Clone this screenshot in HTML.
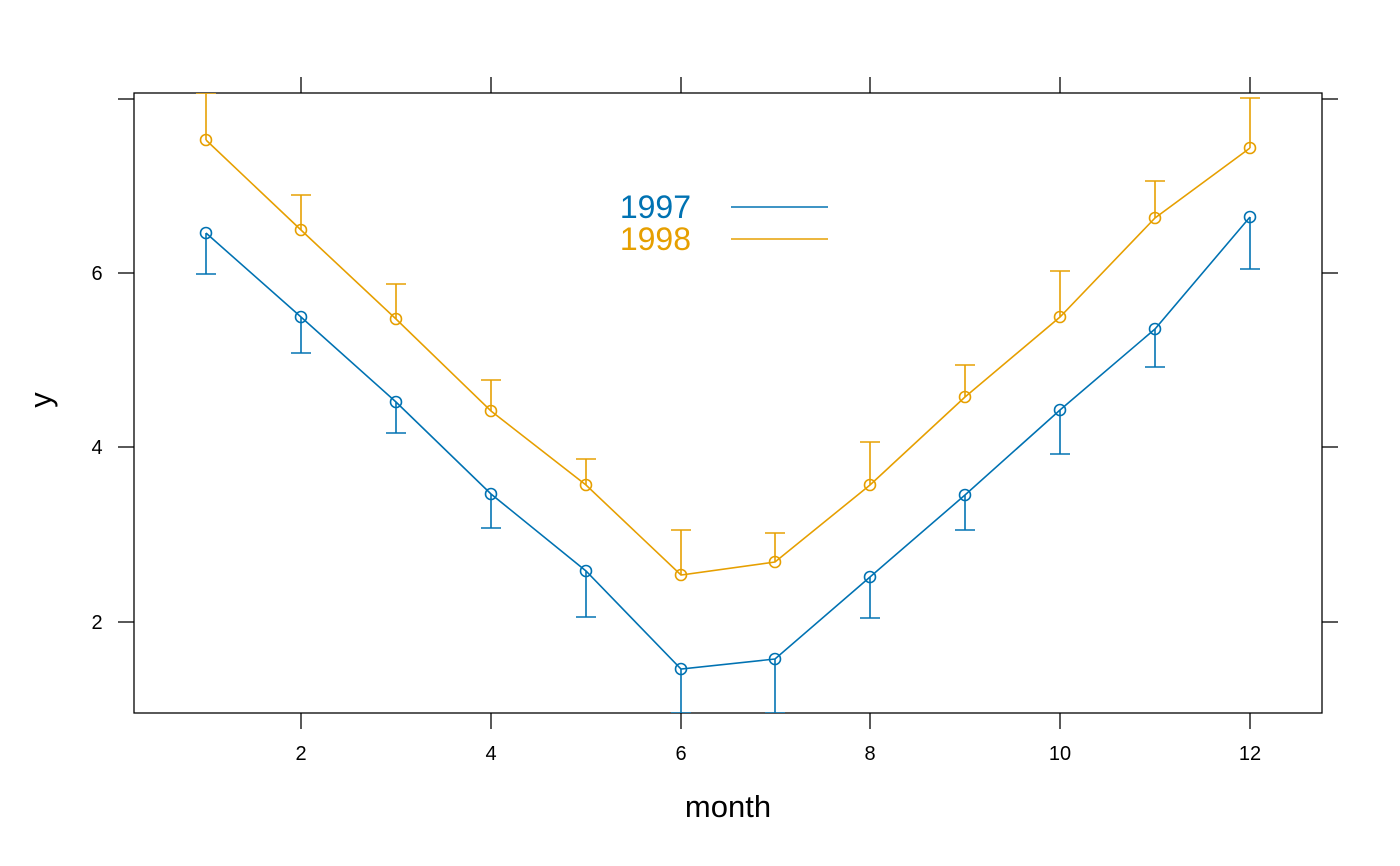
<!DOCTYPE html>
<html><head><style>html,body{margin:0;padding:0;background:#fff}svg{display:block}</style></head>
<body>
<svg width="1400" height="866" viewBox="0 0 1400 866" xmlns="http://www.w3.org/2000/svg" font-family="Liberation Sans, DejaVu Sans, sans-serif">
<defs><clipPath id="c"><rect x="134" y="93" width="1188" height="620"/></clipPath></defs>
<rect x="134" y="93" width="1188" height="620" fill="none" stroke="#000" stroke-width="1.3"/>
<g stroke="#000" stroke-width="1.3">
<line x1="301" y1="77" x2="301" y2="93"/><line x1="491" y1="77" x2="491" y2="93"/><line x1="681" y1="77" x2="681" y2="93"/><line x1="870" y1="77" x2="870" y2="93"/><line x1="1060" y1="77" x2="1060" y2="93"/><line x1="1250" y1="77" x2="1250" y2="93"/>
<line x1="301" y1="713" x2="301" y2="729"/><line x1="491" y1="713" x2="491" y2="729"/><line x1="681" y1="713" x2="681" y2="729"/><line x1="870" y1="713" x2="870" y2="729"/><line x1="1060" y1="713" x2="1060" y2="729"/><line x1="1250" y1="713" x2="1250" y2="729"/>
<line x1="118" y1="99" x2="134" y2="99"/><line x1="118" y1="273" x2="134" y2="273"/><line x1="118" y1="447" x2="134" y2="447"/><line x1="118" y1="622" x2="134" y2="622"/>
<line x1="1322" y1="99" x2="1338" y2="99"/><line x1="1322" y1="273" x2="1338" y2="273"/><line x1="1322" y1="447" x2="1338" y2="447"/><line x1="1322" y1="622" x2="1338" y2="622"/>
</g>
<g font-size="20" fill="#000" text-anchor="middle">
<text x="301" y="760">2</text><text x="491" y="760">4</text><text x="681" y="760">6</text><text x="870" y="760">8</text><text x="1060" y="760">10</text><text x="1250" y="760">12</text>
<text x="97" y="280">6</text><text x="97" y="454">4</text><text x="97" y="629">2</text>
</g>
<text x="728" y="817" font-size="31" text-anchor="middle">month</text>
<text x="0" y="0" font-size="31" text-anchor="middle" transform="translate(51,400) rotate(-90)">y</text>
<g clip-path="url(#c)" fill="none" stroke-width="1.6">
<g stroke="#0072B2">
<polyline points="206,233 301,317 396,402 491,494 586,571 681,669 775,659 870,577 965,495 1060,410 1155,329 1250,217"/>
<path d="M206,233V274M196,274H216M301,317V353M291,353H311M396,402V433M386,433H406M491,494V528M481,528H501M586,571V617M576,617H596M681,669V720M671,713H691M775,659V720M765,713H785M870,577V618M860,618H880M965,495V530M955,530H975M1060,410V454M1050,454H1070M1155,329V367M1145,367H1165M1250,217V269M1240,269H1260"/>
<g><circle cx="206" cy="233" r="5.5"/><circle cx="301" cy="317" r="5.5"/><circle cx="396" cy="402" r="5.5"/><circle cx="491" cy="494" r="5.5"/><circle cx="586" cy="571" r="5.5"/><circle cx="681" cy="669" r="5.5"/><circle cx="775" cy="659" r="5.5"/><circle cx="870" cy="577" r="5.5"/><circle cx="965" cy="495" r="5.5"/><circle cx="1060" cy="410" r="5.5"/><circle cx="1155" cy="329" r="5.5"/><circle cx="1250" cy="217" r="5.5"/></g>
</g>
<g stroke="#E69F00">
<polyline points="206,140 301,230 396,319 491,411 586,485 681,575 775,562 870,485 965,397 1060,317 1155,218 1250,148"/>
<path d="M206,140V85M196,93H216M301,230V195M291,195H311M396,319V284M386,284H406M491,411V380M481,380H501M586,485V459M576,459H596M681,575V530M671,530H691M775,562V533M765,533H785M870,485V442M860,442H880M965,397V365M955,365H975M1060,317V271M1050,271H1070M1155,218V181M1145,181H1165M1250,148V98M1240,98H1260"/>
<g><circle cx="206" cy="140" r="5.5"/><circle cx="301" cy="230" r="5.5"/><circle cx="396" cy="319" r="5.5"/><circle cx="491" cy="411" r="5.5"/><circle cx="586" cy="485" r="5.5"/><circle cx="681" cy="575" r="5.5"/><circle cx="775" cy="562" r="5.5"/><circle cx="870" cy="485" r="5.5"/><circle cx="965" cy="397" r="5.5"/><circle cx="1060" cy="317" r="5.5"/><circle cx="1155" cy="218" r="5.5"/><circle cx="1250" cy="148" r="5.5"/></g>
</g>
</g>
<text x="691" y="218" font-size="32" fill="#0072B2" text-anchor="end">1997</text>
<text x="691" y="250" font-size="32" fill="#E69F00" text-anchor="end">1998</text>
<line x1="731" y1="207" x2="828" y2="207" stroke="#0072B2" stroke-width="1.6"/>
<line x1="731" y1="239" x2="828" y2="239" stroke="#E69F00" stroke-width="1.6"/>
</svg>
</body></html>
